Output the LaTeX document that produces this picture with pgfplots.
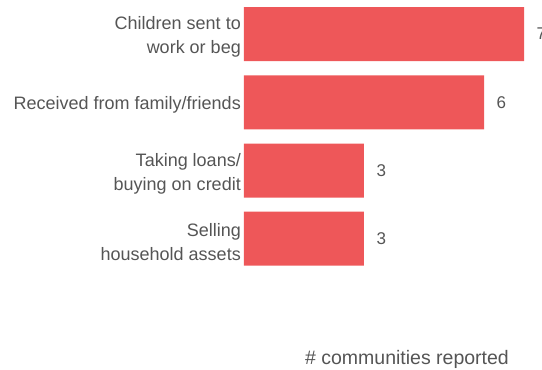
\documentclass[border=0pt]{standalone}
\usepackage{pgfplots}
\pgfplotsset{compat=1.18}
\usepackage{fontspec}
\setmainfont{Liberation Sans}
\usetikzlibrary{calc}
\definecolor{barred}{HTML}{EE5759}
\definecolor{txtgray}{HTML}{555555}

\begin{document}
\begin{tikzpicture}
\begin{axis}[
  xbar,
  scale only axis,
  width=298pt, height=341pt,
  xmin=0, xmax=7.45,
  ymin=-0.5, ymax=4.5,
  y dir=reverse,
  bar width=54pt,
  axis line style={draw=none},
  major tick length=0pt,
  xtick=\empty,
  ytick={0,1,2,3},
  yticklabels={{Children sent to\\work or beg},{Received from family/friends},{Taking loans/\\buying on credit},{Selling\\household assets}},
  yticklabel style={align=right, font=\fontsize{18}{24}\selectfont, text=txtgray, inner sep=0pt, xshift=-3pt, yshift=-3pt},
  nodes near coords,
  /pgf/number format/assume math mode=true,
  nodes near coords style={font=\fontsize{17}{20}\selectfont, text=txtgray, anchor=west, xshift=9pt},
  xlabel={\# communities reported},
  xlabel style={font=\fontsize{19.5}{22}\selectfont, text=txtgray, at={(axis description cs:0.5,0)}, anchor=north, xshift=14pt, yshift=-6pt},
  clip=false,
]
\addplot[fill=barred, draw=none] coordinates {
(7,0)
(6,1)
(3,2)
(3,3)
};
\end{axis}
\pgfresetboundingbox
\path[use as bounding box] ($(current axis.north west)+(-244pt,0pt)$) rectangle ($(current axis.north east)+(0pt,-369pt)$);
\end{tikzpicture}
\end{document}
